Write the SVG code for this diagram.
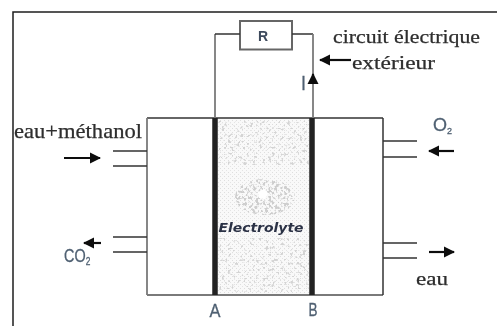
<svg xmlns="http://www.w3.org/2000/svg" width="497" height="326" viewBox="0 0 497 326">
<style>
.w{fill:none;stroke:#333;stroke-width:1.5}
.g{fill:none;stroke:#7a7a7a;stroke-width:1.8}
.m{fill:none;stroke:#222;stroke-width:5.500}
.a{stroke:#0c0c0c;stroke-width:2.200;fill:none;marker-end:url(#h)}
.s{font-family:"Liberation Serif",serif;fill:#2e2e2e;stroke:#2e2e2e;stroke-width:.25}
.c{font-family:"Liberation Sans",sans-serif;fill:#4f6072;stroke:#4f6072;stroke-width:.3}
</style>
<defs>
<filter id="b" x="0" y="0" width="100%" height="100%"><feGaussianBlur stdDeviation="0.45"/></filter>
<filter id="sp" x="0" y="0" width="100%" height="100%"><feTurbulence type="fractalNoise" baseFrequency="0.32" numOctaves="2" seed="7"/><feColorMatrix type="matrix" values="0 0 0 0 .66 0 0 0 0 .66 0 0 0 0 .66 9 0 0 0 -5.300"/></filter>
<filter id="sp2" x="0" y="0" width="100%" height="100%"><feTurbulence type="fractalNoise" baseFrequency="0.32" numOctaves="2" seed="3"/><feColorMatrix type="matrix" values="0 0 0 0 .62 0 0 0 0 .62 0 0 0 0 .62 9 0 0 0 -4.600"/></filter>
<clipPath id="e"><ellipse cx="265" cy="197" rx="30" ry="18"/></clipPath>
<marker id="h" markerUnits="userSpaceOnUse" markerWidth="11" markerHeight="12" refX="10" refY="6" orient="auto"><path d="M0 .5L11 6L0 11.500Z" fill="#0c0c0c"/></marker>
<pattern id="d" width="4" height="4" patternUnits="userSpaceOnUse"><rect width="4" height="4" fill="#f9f9f9"/><rect width="1" height="1" fill="#dedede"/><rect x="2" y="2" width="1" height="1" fill="#e4e4e4"/></pattern>
</defs>
<g filter="url(#b)">
<rect x="-5" y="-5" width="507" height="336" fill="#fff"/>
<rect x="13" y="12" width="490" height="330" fill="#fff" stroke="#1c1c1c" stroke-width="1.500"/>
<g id="electrolyte">
<rect x="217" y="119" width="94" height="175" fill="url(#d)"/>
<rect x="219" y="121" width="90" height="44" filter="url(#sp)"/>
<rect x="219" y="238" width="90" height="54" filter="url(#sp)"/>
<g clip-path="url(#e)"><rect x="232" y="176" width="66" height="42" filter="url(#sp2)"/></g>
<path d="M258 192l6-3 4 4-3 6-6-1z" fill="#fff"/>
<text x="261" y="232" text-anchor="middle" font-family="'DejaVu Sans',sans-serif" font-style="italic" font-weight="bold" font-size="12" fill="#2b3045" textLength="85" lengthAdjust="spacingAndGlyphs">Electrolyte</text>
</g>
<g id="cell">
<path class="w" d="M147 118H383"/>
<path class="g" d="M147 118V295M147 295H383"/>
<path class="w" d="M383 118V295"/>
</g>
<g id="membrane-A"><path class="m" d="M215 118V295"/><text class="c" x="215" y="317" font-size="18" text-anchor="middle" textLength="11" lengthAdjust="spacingAndGlyphs">A</text></g>
<g id="membrane-B"><path class="m" d="M312 118V295"/><text class="c" x="313" y="316" font-size="18" text-anchor="middle" textLength="9" lengthAdjust="spacingAndGlyphs">B</text></g>
<g id="resistor"><rect x="240" y="21" width="52" height="28.500" fill="#fff" stroke="#666" stroke-width="2"/><text x="258" y="41" font-family="'Liberation Sans',sans-serif" font-weight="bold" font-size="14" fill="#3d4a5c">R</text></g>
<g id="connectors">
<path class="g" d="M215 118V34"/><path class="w" d="M215 34H240M292 34H313"/><path class="g" d="M313 118V34"/>
<path class="a" d="M313 84V74"/>
<path class="a" d="M351 60H320"/>
<path class="w" d="M113 151H147M113 166H147M113 237H147M113 252H147M383 141H417M383 157H417M383 243H417M383 258H417"/>
<path class="a" d="M64 158H100"/>
<path class="a" d="M101 243H84"/>
<path class="a" d="M454 151H429"/>
<path class="a" d="M429 252H454"/>
</g>
<g id="labels">
<text class="s" x="14" y="138" font-size="21" textLength="128" lengthAdjust="spacingAndGlyphs">eau+méthanol</text>
<text class="s" x="333" y="43" font-size="19" textLength="147" lengthAdjust="spacingAndGlyphs">circuit électrique</text>
<text class="s" x="352" y="69" font-size="19" textLength="83" lengthAdjust="spacingAndGlyphs">extérieur</text>
<text class="s" x="416" y="285" font-size="19" textLength="32" lengthAdjust="spacingAndGlyphs">eau</text>
<text class="c" x="301" y="90" font-size="21" textLength="5" lengthAdjust="spacingAndGlyphs">I</text>
<text class="c" x="433" y="131" font-size="18">O<tspan font-size="9" dy="3">2</tspan></text>
<text class="c" transform="translate(64 262) scale(.76 1)" font-size="19">CO<tspan font-size="11" dy="3">2</tspan></text>
</g>
</g>
</svg>
